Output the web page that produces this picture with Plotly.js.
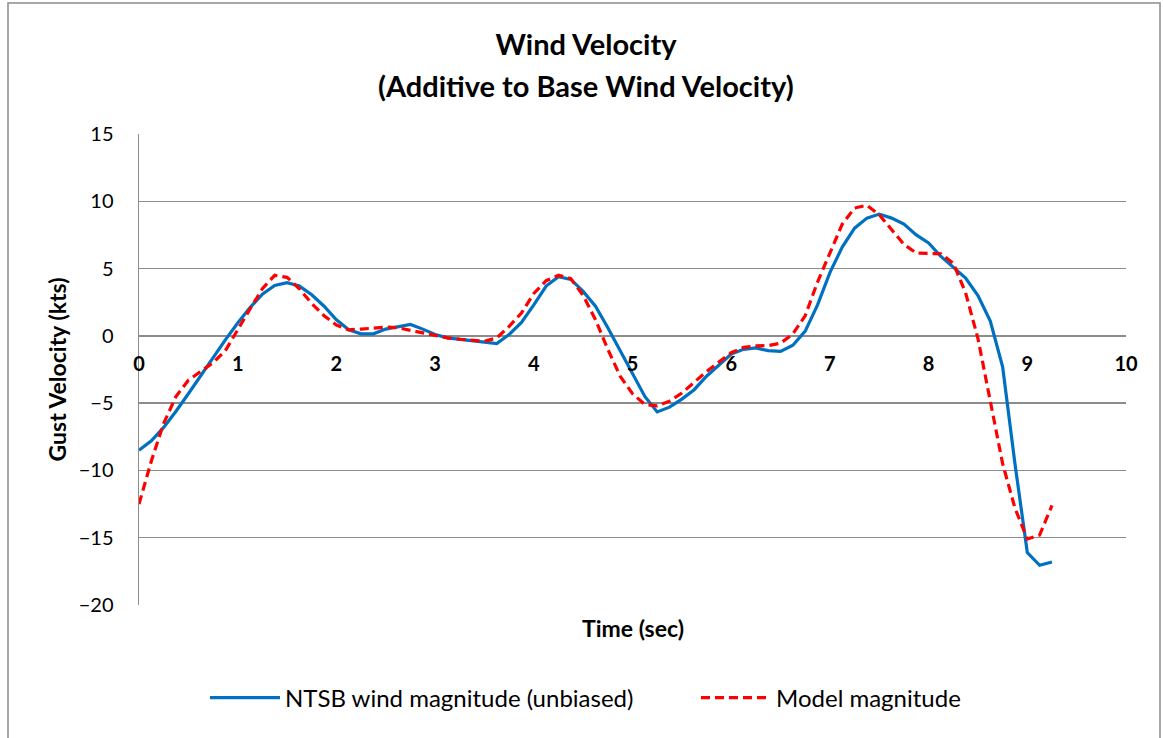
<!DOCTYPE html>
<html>
<head>
<meta charset="utf-8">
<script src="https://cdn.plot.ly/plotly-3.0.1.min.js"></script>
<style>
  html, body { margin: 0; padding: 0; background: #ffffff; }
  #chart { width: 1163px; height: 738px; }
</style>
</head>
<body>
<div id="chart"></div>
<script>
// Sample times (s), 0.125 s apart
const timeSec = [
  0, 0.125, 0.25, 0.375, 0.5, 0.625, 0.75, 0.875,
  1, 1.125, 1.25, 1.375, 1.5, 1.625, 1.75, 1.875,
  2, 2.125, 2.25, 2.375, 2.5, 2.625, 2.75, 2.875,
  3, 3.125, 3.25, 3.375, 3.5, 3.625, 3.75, 3.875,
  4, 4.125, 4.25, 4.375, 4.5, 4.625, 4.75, 4.875,
  5, 5.125, 5.25, 5.375, 5.5, 5.625, 5.75, 5.875,
  6, 6.125, 6.25, 6.375, 6.5, 6.625, 6.75, 6.875,
  7, 7.125, 7.25, 7.375, 7.5, 7.625, 7.75, 7.875,
  8, 8.125, 8.25, 8.375, 8.5, 8.625, 8.75, 8.875,
  9, 9.125, 9.25
];

// NTSB wind magnitude (unbiased), kts
const ntsbGust = [
  -8.5, -7.8, -6.8, -5.6, -4.3, -2.95, -1.55, -0.3,
  0.95, 2.1, 3.1, 3.75, 3.95, 3.7, 3.05, 2.2,
  1.2, 0.45, 0.15, 0.15, 0.5, 0.7, 0.85, 0.5,
  0.1, -0.15, -0.25, -0.35, -0.45, -0.57, 0.1, 1.0,
  2.3, 3.7, 4.4, 4.2, 3.3, 2.2, 0.6, -1.1,
  -2.8, -4.5, -5.65, -5.3, -4.7, -4.0, -3.0, -2.15,
  -1.35, -1.0, -0.9, -1.1, -1.15, -0.7, 0.35, 2.3,
  4.7, 6.6, 8.0, 8.75, 9.05, 8.75, 8.3, 7.5,
  6.9, 5.9, 5.1, 4.3, 3.0, 1.1, -2.3, -9.5,
  -16.1, -17.05, -16.8
];

// Model magnitude, kts
const modelGust = [
  -12.5, -9.3, -6.5, -4.5, -3.3, -2.65, -2.0, -1.1,
  0.5, 2.0, 3.5, 4.5, 4.35, 3.5, 2.4, 1.5,
  0.8, 0.45, 0.5, 0.6, 0.65, 0.6, 0.4, 0.2,
  0.0, -0.15, -0.25, -0.32, -0.4, -0.15, 0.7, 1.7,
  3.15, 4.1, 4.5, 4.25, 3.0, 1.2, -1.0, -3.0,
  -4.3, -5.1, -5.2, -4.85, -4.25, -3.45, -2.65, -1.95,
  -1.25, -0.85, -0.75, -0.72, -0.55, 0.15, 1.5, 4.0,
  6.2, 8.3, 9.5, 9.7, 9.0, 7.9, 6.8, 6.15,
  6.1, 6.1, 5.4, 3.2, -0.2, -4.8, -9.5, -12.8,
  -15.1, -14.8, -12.6
];

const seriesNames = ['NTSB wind magnitude (unbiased)', 'Model magnitude'];
const xTickValues = [0, 1, 2, 3, 4, 5, 6, 7, 8, 9, 10];
const yTickValues = [-20, -15, -10, -5, 0, 5, 10, 15];

const FONT = 'Lato, "Open Sans", "Liberation Sans", sans-serif';
const GRID = '#8c8c8c';

// plot area in page pixels
const PL = 139, PR = 1126, PT = 134, PB = 605;
const PW = PR - PL, PH = PB - PT;
const px2x = p => (p - PL) / PW;
const px2y = p => (PB - p) / PH;

const traces = [
  {
    x: timeSec, y: ntsbGust, type: 'scatter', mode: 'lines',
    name: seriesNames[0], legend: 'legend',
    line: { color: '#0070C0', width: 3.2 }
  },
  {
    x: timeSec, y: modelGust, type: 'scatter', mode: 'lines',
    name: seriesNames[1], legend: 'legend2',
    line: { color: '#FF0000', width: 3.2, dash: '9px,5px' }
  }
];

const legendStyle = (leftPx) => ({
  orientation: 'h', x: px2x(leftPx), xanchor: 'left',
  y: px2y(698), yanchor: 'middle',
  font: { family: FONT, size: 24, color: '#000000' },
  itemwidth: 70,
  bgcolor: 'rgba(0,0,0,0)'
});

const layout = {
  width: 1163, height: 738,
  margin: { l: PL, r: 1163 - PR, t: PT, b: 738 - PB, autoexpand: false },
  paper_bgcolor: '#ffffff', plot_bgcolor: '#ffffff',
  font: { family: FONT, color: '#000000' },
  showlegend: true,
  title: {
    text: 'Wind Velocity',
    font: { family: FONT, size: 29, color: '#000000', weight: 'bold' },
    xref: 'container', yref: 'container',
    x: 586 / 1163, y: 1 - 45 / 738, xanchor: 'center', yanchor: 'middle'
  },
  xaxis: {
    range: [0, 10], tickvals: xTickValues,
    anchor: 'free', position: 20 / 35,
    showgrid: false, zeroline: false, showline: false, ticks: '',
    ticklabelstandoff: 14,
    tickfont: { family: FONT, size: 20, color: '#000000', weight: 'bold' },
    fixedrange: true
  },
  yaxis: {
    range: [-20, 15], tickvals: yTickValues,
    showgrid: true, gridcolor: GRID, gridwidth: 1.5,
    zeroline: false, showline: true, linecolor: GRID, linewidth: 1.5,
    ticks: '', ticklabelstandoff: 20,
    tickfont: { family: FONT, size: 20, color: '#000000' },
    title: {
      text: 'Gust Velocity (kts)', standoff: 5,
      font: { family: FONT, size: 23, color: '#000000', weight: 'bold' }
    },
    fixedrange: true
  },
  legend: legendStyle(205),
  legend2: legendStyle(696),
  annotations: [
    {
      text: '(Additive to Base Wind Velocity)',
      xref: 'paper', yref: 'paper',
      x: px2x(586), y: px2y(85),
      xanchor: 'center', yanchor: 'middle', showarrow: false,
      font: { family: FONT, size: 29, color: '#000000', weight: 'bold' }
    },
    {
      text: 'Time (sec)',
      xref: 'paper', yref: 'paper',
      x: 0.5, y: px2y(628),
      xanchor: 'center', yanchor: 'middle', showarrow: false,
      font: { family: FONT, size: 23, color: '#000000', weight: 'bold' }
    }
  ],
  shapes: [
    {
      type: 'rect', xref: 'paper', yref: 'paper', layer: 'below',
      x0: px2x(8), x1: px2x(1160),
      y0: px2y(745), y1: px2y(3),
      line: { color: '#8c8c8c', width: 1.5 }, fillcolor: 'rgba(0,0,0,0)'
    }
  ]
};

Plotly.newPlot('chart', traces, layout, { displayModeBar: false, staticPlot: true });
</script>
</body>
</html>
